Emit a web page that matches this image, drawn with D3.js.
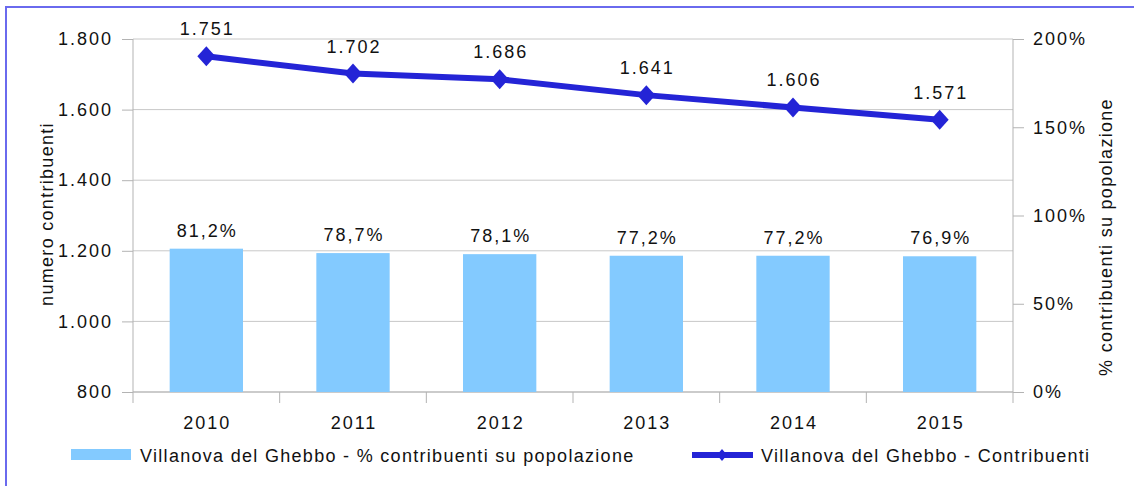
<!DOCTYPE html>
<meta charset="utf-8">
<style>
    body { margin: 0; background: #fff; }
    svg text { font-family: "Liberation Sans", Arial, sans-serif; fill: #111; letter-spacing: 1.3px; }
    svg text.num { letter-spacing: 2px; }
    .axis path, .axis line { stroke: #b3b3b3; }
</style>
<svg></svg>
<script src="https://cdn.jsdelivr.net/npm/d3@7"></script>
<script>

    var years = ["2010", "2011", "2012", "2013", "2014", "2015"];
    var percContribuenti = [81.2, 78.7, 78.1, 77.2, 77.2, 76.9];
    var contribuenti = [1751, 1702, 1686, 1641, 1606, 1571];
    var leftTicks = [800, 1000, 1200, 1400, 1600, 1800];
    var rightTicks = [0, 50, 100, 150, 200];
    var seriesNames = ["Villanova del Ghebbo - % contribuenti su popolazione", "Villanova del Ghebbo - Contribuenti"];

    var width = 1134,
        height = 486;

    var margin = { top: 39, right: 121, bottom: 94, left: 133 };

    var svg = d3.select("svg")
        .attr("width", width)
        .attr("height", height);

    var it = d3.formatLocale({ decimal: ",", thousands: ".", grouping: [3], currency: ["€", ""] });
    var fmtInt = it.format(",d"),
        fmtPct = function (d) { return it.format(".1f")(d) + "%"; };

    // border
    svg.append("rect")
        .attr("x", 6).attr("y", 7)
        .attr("width", 1140).attr("height", 500)
        .attr("fill", "none")
        .attr("stroke", "#6a6aee")
        .attr("stroke-width", 2);

    var x = d3.scaleBand()
        .domain(years)
        .range([margin.left, width - margin.right])
        .paddingInner(0.5)
        .paddingOuter(0.25);

    var xOuter = d3.scaleBand()
        .domain(years)
        .range([margin.left, width - margin.right]);

    var yLeft = d3.scaleLinear()
        .domain([800, 1800])
        .range([height - margin.bottom, margin.top]);

    var yRight = d3.scaleLinear()
        .domain([0, 200])
        .range([height - margin.bottom, margin.top]);

    var bottomY = height - margin.bottom;

    // gridlines
    svg.append("g")
        .selectAll("line")
        .data(leftTicks)
        .enter().append("line")
        .attr("x1", margin.left).attr("x2", width - margin.right)
        .attr("y1", function (d) { return yLeft(d); })
        .attr("y2", function (d) { return yLeft(d); })
        .attr("stroke", "#c8c8c8");

    // left axis
    var gl = svg.append("g")
        .attr("class", "axis")
        .attr("transform", "translate(" + margin.left + ",0)")
        .call(d3.axisLeft(yLeft).tickValues(leftTicks).tickSize(11).tickPadding(9).tickFormat(fmtInt));
    gl.select(".domain").attr("d", "M0," + margin.top + "V" + (bottomY + 11));
    gl.selectAll("text").attr("class", "num").attr("font-size", 18).attr("font-family", null);

    // right axis
    var gr = svg.append("g")
        .attr("class", "axis")
        .attr("transform", "translate(" + (width - margin.right) + ",0)")
        .call(d3.axisRight(yRight).tickValues(rightTicks).tickSize(11).tickPadding(9).tickFormat(function (d) { return d + "%"; }));
    gr.select(".domain").attr("d", "M0," + margin.top + "V" + (bottomY + 11));
    gr.selectAll("text").attr("class", "num").attr("font-size", 18).attr("font-family", null);

    // bottom axis
    var gb = svg.append("g")
        .attr("class", "axis")
        .attr("transform", "translate(0," + bottomY + ")");
    gb.append("line")
        .attr("x1", margin.left).attr("x2", width - margin.right)
        .attr("y1", 0).attr("y2", 0);
    gb.selectAll(".sep")
        .data(years.slice(1))
        .enter().append("line")
        .attr("x1", function (d) { return xOuter(d); })
        .attr("x2", function (d) { return xOuter(d); })
        .attr("y1", 0).attr("y2", 11);
    gb.selectAll(".lbl")
        .data(years)
        .enter().append("text")
        .attr("class", "num")
        .attr("x", function (d) { return xOuter(d) + xOuter.bandwidth() / 2 + 1; })
        .attr("y", 37)
        .attr("text-anchor", "middle")
        .attr("font-size", 18)
        .text(function (d) { return d; });

    // bars (right axis)
    svg.append("g")
        .selectAll("rect")
        .data(percContribuenti)
        .enter().append("rect")
        .attr("x", function (d, i) { return x(years[i]); })
        .attr("width", x.bandwidth())
        .attr("y", function (d) { return yRight(d); })
        .attr("height", function (d) { return bottomY - yRight(d); })
        .attr("fill", "#83caff");

    svg.append("g")
        .selectAll("text")
        .data(percContribuenti)
        .enter().append("text")
        .attr("class", "num")
        .attr("x", function (d, i) { return x(years[i]) + x.bandwidth() / 2 + 1; })
        .attr("y", function (d) { return yRight(d) - 12; })
        .attr("text-anchor", "middle")
        .attr("font-size", 18)
        .text(fmtPct);

    // line (left axis)
    var cx = function (d, i) { return x(years[i]) + x.bandwidth() / 2; };
    var line = d3.line()
        .x(cx)
        .y(function (d) { return yLeft(d); });

    svg.append("path")
        .datum(contribuenti)
        .attr("d", line)
        .attr("fill", "none")
        .attr("stroke", "#2424d6")
        .attr("stroke-width", 6);

    var diamond = "M0,-10L9,0L0,10L-9,0Z";
    svg.append("g")
        .selectAll("path")
        .data(contribuenti)
        .enter().append("path")
        .attr("transform", function (d, i) { return "translate(" + cx(d, i) + "," + yLeft(d) + ")"; })
        .attr("d", diamond)
        .attr("fill", "#2424d6");

    svg.append("g")
        .selectAll("text")
        .data(contribuenti)
        .enter().append("text")
        .attr("class", "num")
        .attr("x", function (d, i) { return cx(d, i) + 1; })
        .attr("y", function (d) { return yLeft(d) - 21; })
        .attr("text-anchor", "middle")
        .attr("font-size", 18)
        .text(fmtInt);

    // axis titles
    svg.append("text")
        .attr("transform", "translate(53,214) rotate(-90)")
        .attr("text-anchor", "middle")
        .attr("font-size", 18)
        .text("numero contribuenti");

    svg.append("text")
        .attr("transform", "translate(1112,237) rotate(-90)")
        .attr("text-anchor", "middle")
        .attr("font-size", 18)
        .text("% contribuenti su popolazione");

    // legend
    var lg = svg.append("g");
    lg.append("rect")
        .attr("x", 71).attr("y", 449)
        .attr("width", 60).attr("height", 11)
        .attr("fill", "#83caff");
    lg.append("text")
        .attr("x", 140).attr("y", 462)
        .attr("font-size", 18)
        .text(seriesNames[0]);

    lg.append("line")
        .attr("x1", 692).attr("x2", 753)
        .attr("y1", 455).attr("y2", 455)
        .attr("stroke", "#2424d6")
        .attr("stroke-width", 6);
    lg.append("path")
        .attr("transform", "translate(722,455)")
        .attr("d", "M0,-6L5,0L0,6L-5,0Z")
        .attr("fill", "#2424d6");
    lg.append("text")
        .attr("x", 761).attr("y", 462)
        .attr("font-size", 18)
        .text(seriesNames[1]);

</script>
